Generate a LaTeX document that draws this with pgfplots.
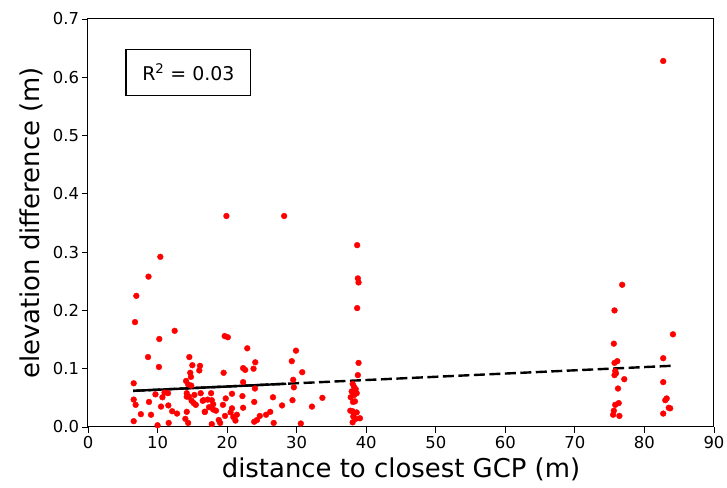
\documentclass[border=0pt]{standalone}
\usepackage{pgfplots}
\pgfplotsset{compat=1.18}
\usepackage{fontspec}
\setmainfont{DejaVu Sans}
\begin{document}
\begin{tikzpicture}
\useasboundingbox (-88bp,-61bp) rectangle (639bp,427bp);
\begin{axis}[
  scale only axis,
  width=626bp, height=408bp,
  xmin=0, xmax=90, ymin=0, ymax=0.7,
  xtick={0,10,...,90},
  ytick={0,0.1,...,0.7},
  yticklabel style={/pgf/number format/fixed,/pgf/number format/fixed zerofill,/pgf/number format/precision=1},
  /pgf/number format/assume math mode=true,
  tick label style={font=\fontsize{16.5}{18}\selectfont},
  label style={font=\fontsize{26}{29}\selectfont},
  xlabel={distance to closest GCP (m)},
  ylabel={elevation difference (m)},
  tick align=outside,
  major tick length=5.5bp,
  tick style={black, line width=0.9bp},
  xtick pos=bottom, ytick pos=left,
  axis line style={black, line width=1bp},
  xlabel style={yshift=-3bp},
  ylabel style={yshift=3bp},
  clip=false,
]
\addplot[only marks, mark=*, mark size=2.9bp, red, mark options={draw=red, fill=red}] coordinates {
(10.4,0.292) (8.7,0.258) (6.95,0.225) (6.76,0.180) (12.46,0.165) (10.25,0.151)
(8.63,0.120) (10.2,0.103) (14.57,0.120) (15.0,0.106) (16.1,0.105) (16.0,0.097)
(14.7,0.093) (14.8,0.086) (6.57,0.075) (14.1,0.079) (14.4,0.073) (14.85,0.071)
(9.7,0.056) (10.7,0.051) (11.0,0.059) (11.5,0.058)
(6.57,0.047) (6.85,0.038) (8.77,0.043) (10.5,0.035) (11.55,0.037) (12.1,0.027)
(12.8,0.023) (7.6,0.022) (9.06,0.021) (6.57,0.010) (10.0,0.003) (11.6,0.007)
(14.2,0.058) (14.5,0.052) (15.3,0.055) (16.2,0.058) (14.2,0.052) (14.9,0.045)
(15.2,0.041) (15.5,0.038) (16.5,0.045) (16.8,0.026) (14.2,0.026) (14.0,0.014) (14.4,0.007)
(19.9,0.362) (28.2,0.362) (38.7,0.312) (38.8,0.255) (38.9,0.248) (38.7,0.204)
(19.65,0.156) (20.1,0.154) (22.9,0.135) (29.9,0.131) (29.3,0.113) (38.9,0.110)
(22.3,0.101) (22.6,0.098) (24.05,0.111) (23.8,0.100) (19.5,0.093) (30.8,0.094)
(38.8,0.089) (22.3,0.077) (29.5,0.081) (29.6,0.068)
(38.05,0.074) (38.24,0.069) (38.49,0.065) (37.91,0.061) (38.28,0.055) (37.77,0.051)
(38.63,0.058) (38.1,0.043) (38.38,0.044) (37.71,0.028) (38.05,0.027) (38.28,0.024)
(38.63,0.025) (38.14,0.018) (38.49,0.014) (38.05,0.008) (39.1,0.015)
(24.0,0.066) (17.7,0.058) (20.7,0.057) (22.2,0.053)
(16.6,0.046) (17.2,0.047) (17.8,0.046) (18.0,0.039) (16.8,0.026) (17.4,0.034)
(18.0,0.030) (18.4,0.028) (19.4,0.038) (19.8,0.049) (20.7,0.032) (20.5,0.025)
(22.3,0.033) (23.9,0.043) (26.6,0.051) (27.9,0.037) (29.4,0.046) (32.2,0.035) (33.7,0.050)
(18.8,0.012) (19.0,0.007) (19.7,0.019) (20.9,0.017) (21.2,0.011) (21.4,0.021)
(23.9,0.009) (24.3,0.012) (24.7,0.019) (25.6,0.021) (26.2,0.026) (26.7,0.007)
(30.6,0.006) (17.8,0.005)
(82.7,0.628) (76.8,0.244) (75.7,0.200) (84.1,0.159) (75.6,0.143) (82.7,0.118)
(75.7,0.110) (76.1,0.113) (75.8,0.096) (75.9,0.092) (75.7,0.089) (77.1,0.082)
(82.7,0.077) (76.2,0.066) (75.8,0.038) (76.3,0.041) (83.0,0.046) (83.2,0.049)
(83.7,0.032) (83.5,0.033) (75.6,0.028) (75.5,0.021) (76.4,0.019) (82.7,0.023)
};
\addplot[black, line width=2.4bp, dash pattern=on 11bp off 4.5bp] coordinates {(6.5,0.0620) (84.1,0.1051)};
\addplot[black, line width=2.4bp] coordinates {(6.5,0.0620) (28.5,0.0742)};
\draw[black, line width=1.1bp, fill=white] (axis cs:5.46,0.569) rectangle (axis cs:23.4,0.648);
\node[font=\fontsize{19}{22}\selectfont, anchor=center] at (axis cs:14.43,0.6085) {R\textsuperscript{2} = 0.03};
\end{axis}
\end{tikzpicture}
\end{document}
